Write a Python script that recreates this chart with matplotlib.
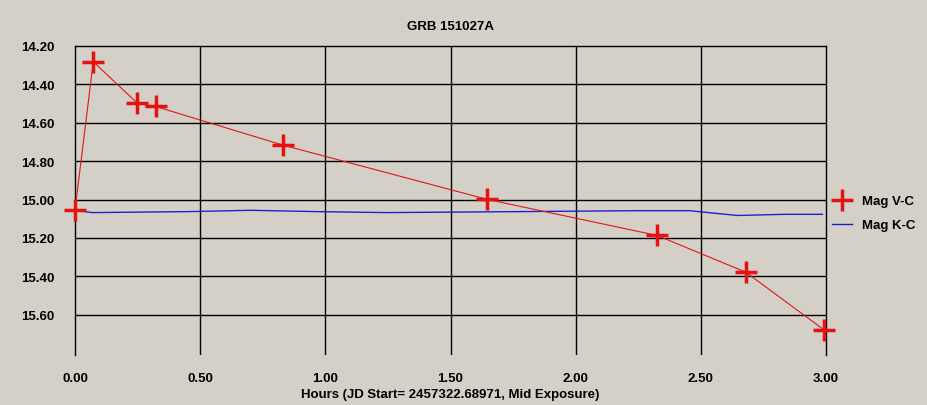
import matplotlib
matplotlib.use('Agg')
import matplotlib.pyplot as plt
from matplotlib.lines import Line2D

# Valores
hours_vc = [0.000, 0.073, 0.249, 0.322, 0.832, 1.646, 2.325, 2.679, 2.991]
mag_vc = [15.055, 14.282, 14.498, 14.515, 14.717, 14.999, 15.187, 15.378, 15.678]

hours_kc = [0.000, 0.068, 0.447, 0.703, 0.970, 1.245, 1.764, 2.255, 2.455,
            2.575, 2.647, 2.834, 2.986]
mag_kc = [15.056, 15.068, 15.063, 15.056, 15.063, 15.068, 15.063, 15.058, 15.058,
          15.074, 15.083, 15.077, 15.077]

xticks = [0.0, 0.5, 1.0, 1.5, 2.0, 2.5, 3.0]
yticks = [14.2, 14.4, 14.6, 14.8, 15.0, 15.2, 15.4, 15.6]

bg = '#d4d0c8'
plt.rcParams['font.family'] = ['Liberation Sans', 'DejaVu Sans']
plt.rcParams['font.weight'] = 'bold'
fs = 9.5

W, H = 928, 406
fig = plt.figure(figsize=(W / 100, H / 100), dpi=100, facecolor=bg)
ax = fig.add_axes([75 / W, 1 - 356 / H, 751 / W, 309 / H])
ax.set_facecolor(bg)

ax.set_xlim(0, 3)
ax.set_ylim(15.81, 14.2)

# grade
for y in yticks[1:]:
    ax.axhline(y, color='black', linewidth=1, zorder=1)
for x in xticks[1:-1]:
    ax.axvline(x, color='black', linewidth=1, zorder=1)

for side in ['left', 'right', 'top']:
    ax.spines[side].set_color('black')
    ax.spines[side].set_linewidth(1)
ax.spines['bottom'].set_visible(False)

ax.set_xticks(xticks)
ax.set_xticklabels(['{:.2f}'.format(v) for v in xticks], fontsize=fs, fontweight='bold')
ax.set_yticks(yticks)
ax.set_yticklabels(['{:.2f}'.format(v) for v in yticks], fontsize=fs, fontweight='bold')
ax.tick_params(axis='x', length=0, pad=12)
ax.tick_params(axis='y', length=0, pad=15)

ax.plot(hours_kc, mag_kc, color='#2020c8', linewidth=1, zorder=3)
ax.plot(hours_vc, mag_vc, color='#e01818', linewidth=0.8, zorder=4)
ax.plot(hours_vc, mag_vc, linestyle='None', marker='+', markersize=16,
        markeredgewidth=2.5, color='#e81010', zorder=5, clip_on=False)

ax.set_title('GRB 151027A', fontsize=fs, fontweight='bold', pad=12.5)
ax.set_xlabel('Hours (JD Start= 2457322.68971, Mid Exposure)', fontsize=fs,
              fontweight='bold', labelpad=3)

handles = [
    Line2D([], [], color='#e81010', marker='+', linestyle='None', markersize=16,
           markeredgewidth=2.5),
    Line2D([], [], color='#2020c8', linewidth=1),
]
fig.legend(handles, ['Mag V-C', 'Mag K-C'], loc='upper left',
           bbox_to_anchor=(832 / W, 1 - 196 / H), frameon=False, fontsize=fs,
           handlelength=1.5, handletextpad=0.75, labelspacing=0.9,
           borderpad=0, borderaxespad=0)

fig.savefig('out.png', dpi=100, facecolor=bg)
